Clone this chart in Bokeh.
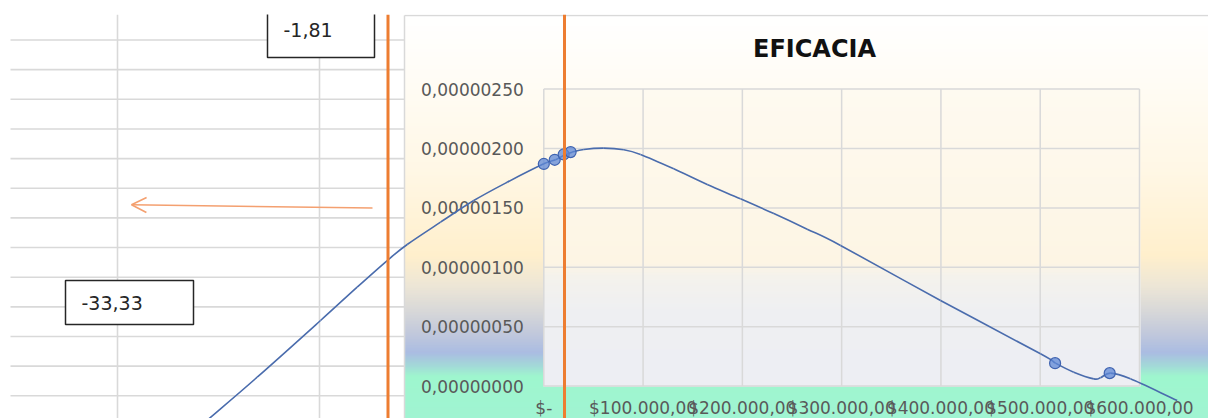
import numpy as np
from bokeh.plotting import figure
from bokeh.models import Range1d, Arrow, OpenHead
from bokeh.core.properties import value
from bokeh.embed import file_html
from bokeh.resources import INLINE

# ---------------------------------------------------------------- data
x_ticks = [0, 100000, 200000, 300000, 400000, 500000, 600000]
x_tick_labels = ["$-", "$100.000,00", "$200.000,00", "$300.000,00",
                 "$400.000,00", "$500.000,00", "$600.000,00"]
y_ticks = [0.0, 0.5e-6, 1.0e-6, 1.5e-6, 2.0e-6, 2.5e-6]
y_tick_labels = ["0,00000000", "0,00000050", "0,00000100",
                 "0,00000150", "0,00000200", "0,00000250"]

# smoothed trend line of the series
curve_x = [-345000, -288700, -224900, -188000, -157700, -137600, -104000,
           -70500, -36900, 0, 11800, 21900, 28600, 40300, 60400, 80600,
           97400, 130900, 164600, 198100, 231700, 265300, 298900, 399600,
           500300, 515400, 533800, 554000, 560700, 570800, 590900, 638000]
curve_y = [-0.330e-6, 0.075e-6, 0.552e-6, 0.833e-6, 1.057e-6, 1.192e-6,
           1.380e-6, 1.562e-6, 1.716e-6, 1.871e-6, 1.905e-6, 1.950e-6,
           1.969e-6, 1.992e-6, 2.003e-6, 1.989e-6, 1.950e-6, 1.829e-6,
           1.697e-6, 1.577e-6, 1.452e-6, 1.321e-6, 1.184e-6, 0.721e-6,
           0.272e-6, 0.193e-6, 0.117e-6, 0.061e-6, 0.070e-6, 0.109e-6,
           0.061e-6, -0.121e-6]

# observed points
point_x = [0, 11000, 20000, 27000, 515000, 570000]
point_y = [1.870e-6, 1.905e-6, 1.950e-6, 1.970e-6, 0.193e-6, 0.109e-6]

chart_title = "EFICACIA"
note_small = "-1,81"
note_large = "-33,33"

# ---------------------------------------------------------------- layout
W, H = 1208, 418
X0_PX, X_PX_PER_UNIT = 543.3, 99.28 / 100000.0   # screen x of value 0, px per unit
Y0_PX, Y_PX_PER_UNIT = 385.6, 59.4 / 0.5e-6      # screen y (from top) of value 0


def sx(px):
    return (px - X0_PX) / X_PX_PER_UNIT


def sy(py):
    return (Y0_PX - py) / Y_PX_PER_UNIT


GRID = "#d9d9d9"
ORANGE = "#ed7d31"
LINE_BLUE = "#4a6cad"

p = figure(width=W, height=H, output_backend="svg", toolbar_location=None,
           x_range=Range1d(sx(0), sx(W)), y_range=Range1d(sy(H), sy(0)),
           x_axis_location=None, y_axis_location=None, title=None,
           min_border=0, min_border_left=0, min_border_right=0,
           min_border_top=0, min_border_bottom=0)
p.outline_line_color = None
p.background_fill_color = "white"
p.border_fill_color = "white"
p.xgrid.visible = False
p.ygrid.visible = False

# ---- worksheet cells behind the chart
row_lines = [39.5 + 29.65 * k for k in range(13)]
p.segment(x0=[sx(10)] * len(row_lines), y0=[sy(r) for r in row_lines],
          x1=[sx(404)] * len(row_lines), y1=[sy(r) for r in row_lines],
          line_color=GRID, line_width=1.6)
col_lines = [117, 319]
p.segment(x0=[sx(c) for c in col_lines], y0=[sy(14)] * 2,
          x1=[sx(c) for c in col_lines], y1=[sy(H)] * 2,
          line_color=GRID, line_width=1.6)

# ---- text boxes on the sheet
p.quad(left=[sx(267), sx(65)], right=[sx(374), sx(193)],
       top=[sy(8), sy(280)], bottom=[sy(57), sy(324)],
       fill_color="white", line_color="#262626", line_width=1.5)
p.text(x=[sx(283), sx(81)], y=[sy(29), sy(302)], text=[note_small, note_large],
       text_align="left", text_baseline="middle", text_font=value("DejaVu Sans"),
       text_font_size="19px", text_color="#262626")

# ---- arrow on the sheet
p.add_layout(Arrow(x_start=sx(372), y_start=sy(207.5), x_end=sx(131), y_end=sy(204.3),
                   line_color="#f4a070", line_width=1.6,
                   end=OpenHead(size=15, line_color="#f4a070", line_width=1.6)))


def hex_rgb(h):
    h = h.lstrip("#")
    return [int(h[i:i + 2], 16) for i in (0, 2, 4)]


def gradient_quads(left_px, right_px, top_px, bottom_px, stops):
    pos = [s[0] for s in stops]
    cols = np.array([hex_rgb(s[1]) for s in stops], dtype=float)
    rows = np.arange(top_px, bottom_px)
    colors = []
    for r in rows:
        c = [int(round(np.interp(r + 0.5, pos, cols[:, k]))) for k in range(3)]
        colors.append("#%02x%02x%02x" % tuple(c))
    p.quad(left=[sx(left_px)] * len(rows), right=[sx(right_px)] * len(rows),
           top=[sy(r) for r in rows], bottom=[sy(min(r + 1.7, bottom_px)) for r in rows],
           fill_color=colors, line_color=None)


# ---- chart area background
chart_stops = [(15, "#ffffff"), (80, "#fffcf5"), (170, "#fff7e5"), (255, "#ffefcc"),
               (285, "#ede6d6"), (310, "#d8d8d8"), (335, "#bfc7dc"), (352, "#aabce2"),
               (365, "#a3d8d8"), (376, "#9ef6ce"), (418, "#a0f4d2")]
gradient_quads(404, W, 15, H, chart_stops)
p.segment(x0=[sx(404), sx(404)], y0=[sy(15), sy(15)], x1=[sx(W), sx(404)], y1=[sy(15), sy(H)],
          line_color=GRID, line_width=1.5)

# ---- plot area background
plot_stops = [(89, "#fefaf0"), (262, "#fdf5e4"), (276, "#f4f2ec"),
              (312, "#eeeff2"), (386, "#edeef3")]
gradient_quads(543, 1140, 89, 386, plot_stops)

# ---- grid lines
p.segment(x0=x_ticks, y0=[y_ticks[0]] * len(x_ticks), x1=x_ticks, y1=[y_ticks[-1]] * len(x_ticks),
          line_color=GRID, line_width=1.5)
p.segment(x0=[x_ticks[0]] * len(y_ticks), y0=y_ticks, x1=[x_ticks[-1]] * len(y_ticks), y1=y_ticks,
          line_color=GRID, line_width=1.5)

# ---- tick labels
p.text(x=x_ticks, y=[y_ticks[0]] * len(x_ticks), text=x_tick_labels, y_offset=22,
       text_align="center", text_baseline="middle", text_font=value("DejaVu Sans"),
       text_font_size="17px", text_color="#595959")
p.text(x=[x_ticks[0]] * len(y_ticks), y=y_ticks, text=y_tick_labels, x_offset=-20,
       text_align="right", text_baseline="middle", text_font=value("DejaVu Sans"),
       text_font_size="17px", text_color="#595959")

# ---- title
p.text(x=[sx(814)], y=[sy(48)], text=[chart_title], text_align="center",
       text_baseline="middle", text_font=value("DejaVu Sans"), text_font_style="bold",
       text_font_size="24px", text_color="#111111")

# ---- series: smoothed line drawn as cubic Bezier pieces through the trace points
cx = np.array(curve_x, dtype=float)
cy = np.array(curve_y, dtype=float)
px_ = np.concatenate([[2 * cx[0] - cx[1]], cx, [2 * cx[-1] - cx[-2]]])
py_ = np.concatenate([[2 * cy[0] - cy[1]], cy, [2 * cy[-1] - cy[-2]]])
n = len(cx) - 1
i = np.arange(1, n + 1)
p.bezier(x0=px_[i], y0=py_[i], x1=px_[i + 1], y1=py_[i + 1],
         cx0=px_[i] + (px_[i + 1] - px_[i - 1]) / 6.0,
         cy0=py_[i] + (py_[i + 1] - py_[i - 1]) / 6.0,
         cx1=px_[i + 1] - (px_[i + 2] - px_[i]) / 6.0,
         cy1=py_[i + 1] - (py_[i + 2] - py_[i]) / 6.0,
         line_color=LINE_BLUE, line_width=1.6)
p.scatter(point_x, point_y, marker="circle", size=11, fill_color="#5d87d6",
          fill_alpha=0.75, line_color="#3f63b0", line_width=1.2)

# ---- orange vertical markers
p.segment(x0=[sx(387.5), sx(564)], y0=[sy(14)] * 2, x1=[sx(387.5), sx(564)], y1=[sy(H + 2)] * 2,
          line_color=ORANGE, line_width=3)

# ---- frozen header strip
p.quad(left=[sx(-2)], right=[sx(W + 2)], top=[sy(-4)], bottom=[sy(14)],
       fill_color="white", line_color=None)

open("out.html", "w").write(file_html(p, INLINE))
